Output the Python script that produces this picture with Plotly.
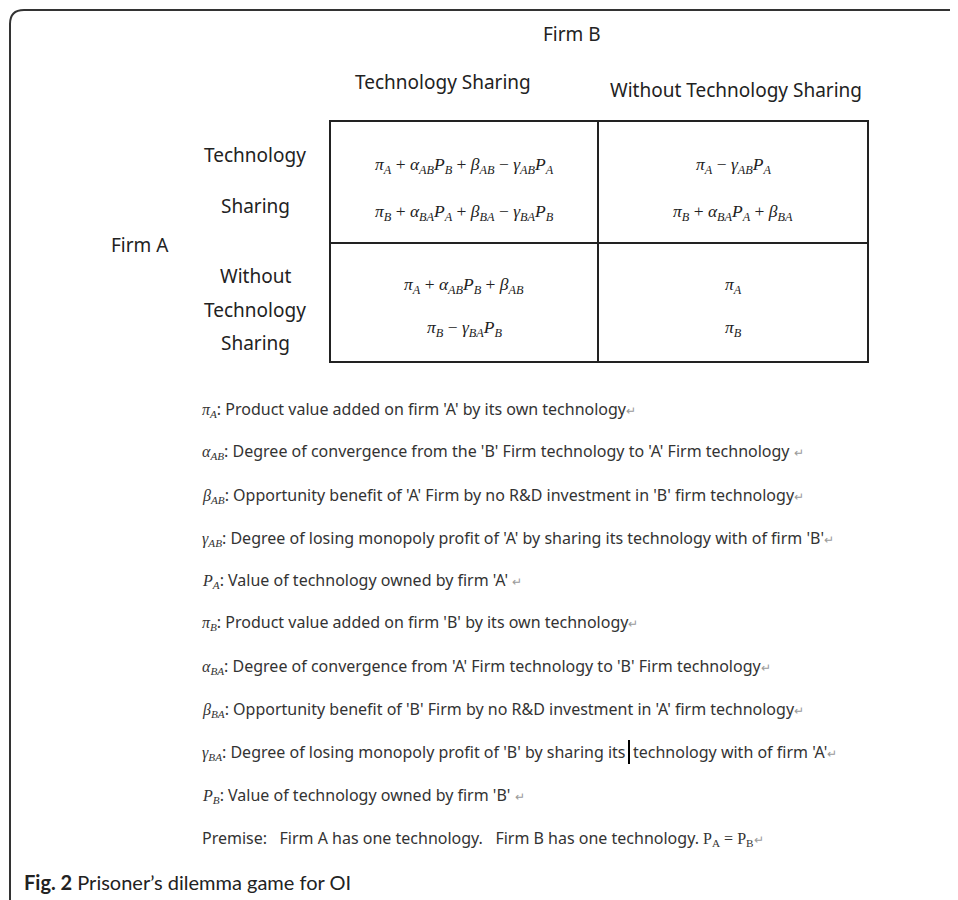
import plotly.graph_objects as go

# ---------------- content ----------------
firm_b_label = "Firm B"
firm_a_label = "Firm A"
col_headers = ["Technology Sharing", "Without Technology Sharing"]
row_headers = [["Technology", "Sharing"], ["Without", "Technology", "Sharing"]]

def sym(g, s):
    return f"<i>{g}<sub>{s}</sub></i>"

# payoff cells: [row][col]
payoff_A = [
    [f"{sym('π','A')} + {sym('α','AB')}{sym('P','B')} + {sym('β','AB')} − {sym('γ','AB')}{sym('P','A')}",
     f"{sym('π','A')} − {sym('γ','AB')}{sym('P','A')}"],
    [f"{sym('π','A')} + {sym('α','AB')}{sym('P','B')} + {sym('β','AB')}",
     f"{sym('π','A')}"],
]
payoff_B = [
    [f"{sym('π','B')} + {sym('α','BA')}{sym('P','A')} + {sym('β','BA')} − {sym('γ','BA')}{sym('P','B')}",
     f"{sym('π','B')} + {sym('α','BA')}{sym('P','A')} + {sym('β','BA')}"],
    [f"{sym('π','B')} − {sym('γ','BA')}{sym('P','B')}",
     f"{sym('π','B')}"],
]

def_symbols = [("π", "A"), ("α", "AB"), ("β", "AB"), ("γ", "AB"), ("P", "A"),
               ("π", "B"), ("α", "BA"), ("β", "BA"), ("γ", "BA"), ("P", "B")]
def_texts = [
    "Product value added on firm 'A' by its own technology",
    "Degree of convergence from the 'B' Firm technology to 'A' Firm technology ",
    "Opportunity benefit of 'A' Firm by no R&D investment in 'B' firm technology",
    "Degree of losing monopoly profit of 'A' by sharing its technology with of firm 'B'",
    "Value of technology owned by firm 'A' ",
    "Product value added on firm 'B' by its own technology",
    "Degree of convergence from 'A' Firm technology to 'B' Firm technology",
    "Opportunity benefit of 'B' Firm by no R&D investment in 'A' firm technology",
    "Degree of losing monopoly profit of 'B' by sharing its technology with of firm 'A'",
    "Value of technology owned by firm 'B' ",
]
cursor_line = 8          # index of the definition with the text cursor
cursor_after = "sharing its"
premise_text = "Premise:&nbsp;&nbsp;&nbsp;Firm A has one technology.&nbsp;&nbsp;&nbsp;Firm B has one technology. "
caption_bold = "Fig. 2"
caption_text = " Prisoner’s dilemma game for OI"

# ---------------- layout geometry ----------------
OFF = 8                      # browser body margin
W, H = 958 - OFF, 900 - OFF
SANS = "Noto Sans"
SERIF = "Liberation Serif"
TXT = "#222222"
RET = "<span style='color:#9a9a9a;font-size:12px'>↵</span>"

tab_x = [330, 598, 868]
tab_y = [121, 243, 362]

fig = go.Figure()
shapes = []
ann = []

shapes.append(dict(type="path", path="M 10,905 L 10,24 Q 10,10 24,10 L 970,10",
                   line=dict(color="#333333", width=2)))
shapes.append(dict(type="rect", x0=tab_x[0], x1=tab_x[2], y0=tab_y[0], y1=tab_y[2],
                   line=dict(color="#222222", width=2)))
shapes.append(dict(type="line", x0=tab_x[1], x1=tab_x[1], y0=tab_y[0], y1=tab_y[2],
                   line=dict(color="#222222", width=2)))
shapes.append(dict(type="line", x0=tab_x[0], x1=tab_x[2], y0=tab_y[1], y1=tab_y[1],
                   line=dict(color="#222222", width=2)))

def add_text(x, y, text, size=19, family=SANS, xanchor="center", color=TXT):
    ann.append(dict(x=x, y=y, xref="x", yref="y", text=text, showarrow=False,
                    xanchor=xanchor, yanchor="middle",
                    font=dict(family=family, size=size, color=color)))

add_text(572, 34, firm_b_label)
add_text(443, 82, col_headers[0])
add_text(736, 90, col_headers[1])
add_text(140, 245, firm_a_label)
for lbl, yy in zip(row_headers[0], [155, 206]):
    add_text(255, yy, lbl)
for lbl, yy in zip(row_headers[1], [276, 310, 343]):
    add_text(255, yy, lbl)

cell_cx = [(tab_x[0] + tab_x[1]) / 2, (tab_x[1] + tab_x[2]) / 2]
rowA_y = [165, 285]
rowB_y = [212, 328]
for r in range(2):
    for c in range(2):
        add_text(cell_cx[c], rowA_y[r], payoff_A[r][c], size=17.5, family=SERIF)
        add_text(cell_cx[c], rowB_y[r], payoff_B[r][c], size=17.5, family=SERIF)

DEF_X = 200
CUR_X = 629
def_y = [409, 451, 495, 538, 580, 622, 666, 709, 752, 795]
for i, ((g, s), t, yy) in enumerate(zip(def_symbols, def_texts, def_y)):
    head = f"<span style='font-family:{SERIF}'><i>{g}<sub>{s}</sub></i></span>: "
    if i == cursor_line:
        k = t.index(cursor_after) + len(cursor_after)
        add_text(DEF_X, yy, head + t[:k], size=16, xanchor="left", color="#333333")
        add_text(CUR_X + 2, yy, t[k:].lstrip() + RET, size=16, xanchor="left", color="#333333")
        shapes.append(dict(type="line", x0=CUR_X, x1=CUR_X, y0=yy - 12, y1=yy + 12,
                           line=dict(color="#000000", width=2)))
    else:
        add_text(DEF_X, yy, head + t + RET, size=16, xanchor="left", color="#333333")

prem = (premise_text +
        f"<span style='font-family:{SERIF}'>P<sub>A</sub> = P<sub>B</sub></span>" + RET)
add_text(DEF_X, 838, prem, size=16, xanchor="left", color="#333333")

add_text(22, 882, f"<b>{caption_bold}</b>{caption_text}", size=20, family="Lato",
         xanchor="left", color="#222222")

fig.update_layout(
    width=W, height=H,
    margin=dict(l=0, r=0, t=0, b=0),
    paper_bgcolor="white", plot_bgcolor="white",
    xaxis=dict(range=[OFF, 958], visible=False, fixedrange=True),
    yaxis=dict(range=[900, OFF], visible=False, fixedrange=True),
    shapes=shapes, annotations=ann, showlegend=False,
)
fig.write_html("out.html")
